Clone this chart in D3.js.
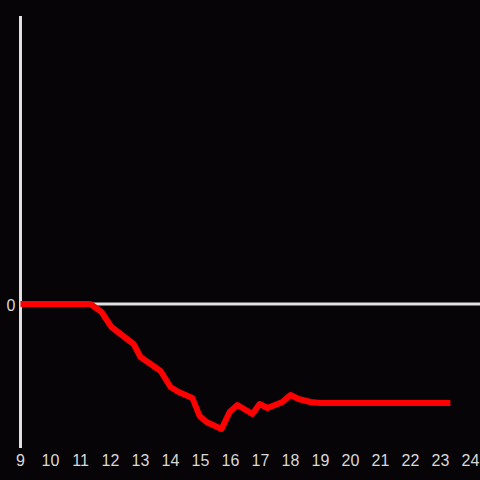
<!DOCTYPE html>
<html>
<head>
<meta charset="utf-8">
<script src="https://cdn.jsdelivr.net/npm/d3@7"></script>
<style>
  html, body { margin: 0; padding: 0; background: #060407; }
  svg { display: block; }
</style>
</head>
<body>
<svg id="chart" width="480" height="480"></svg>
<script>
"use strict";

//Hours of the day (decimal) and the matching values of the red curve
var hours = [9.0, 11.33, 11.7, 12.03, 12.77, 13.0, 13.67, 14.0, 14.27, 14.73,
             14.97, 15.2, 15.7, 15.97, 16.23, 16.73, 16.97, 17.23, 17.73, 18.0,
             18.27, 18.67, 19.0, 23.33];
var values = [0, 0, -8, -23, -40, -53, -67, -83, -88, -94,
              -112, -118, -125, -108, -101, -110, -100, -104, -98, -91,
              -95, -98, -99, -99];
//Tick labels of the axes
var xTicks = [9, 10, 11, 12, 13, 14, 15, 16, 17, 18, 19, 20, 21, 22, 23, 24];
var yTicks = [0];

var svg = d3.select("#chart");

svg.append("rect")
    .attr("width", 480)
    .attr("height", 480)
    .attr("fill", "#060407");

var x = d3.scaleLinear()
    .domain([9, 24])
    .range([20.5, 470.5]);

var y = d3.scaleLinear()
    .domain([-144, 288])
    .range([448, 16]);

var axisCol = "#e0e0e0";
var labelCol = "#d8d8d8";

//Zero line
svg.append("line")
    .attr("x1", x(9))
    .attr("x2", 480)
    .attr("y1", y(0))
    .attr("y2", y(0))
    .attr("stroke", axisCol)
    .attr("stroke-width", 3);

//Y axis line
svg.append("line")
    .attr("x1", x(9))
    .attr("x2", x(9))
    .attr("y1", y(288))
    .attr("y2", y(-144))
    .attr("stroke", axisCol)
    .attr("stroke-width", 3);

//X tick labels
svg.append("g")
    .selectAll("text")
    .data(xTicks)
    .enter().append("text")
      .attr("x", function(d) { return x(d); })
      .attr("y", 466)
      .attr("text-anchor", "middle")
      .attr("fill", labelCol)
      .attr("font-family", "Liberation Sans, Arial, sans-serif")
      .attr("font-size", "16px")
      .text(function(d) { return d; });

//Y tick label
svg.append("g")
    .selectAll("text")
    .data(yTicks)
    .enter().append("text")
      .attr("x", 15.5)
      .attr("y", function(d) { return y(d) + 6.5; })
      .attr("text-anchor", "end")
      .attr("fill", labelCol)
      .attr("font-family", "Liberation Sans, Arial, sans-serif")
      .attr("font-size", "16px")
      .text(function(d) { return d; });

//Red curve
var line = d3.line()
    .x(function(d, i) { return x(hours[i]); })
    .y(function(d) { return y(d); });

svg.append("path")
    .datum(values)
    .attr("d", line)
    .attr("fill", "none")
    .attr("stroke", "#ff0000")
    .attr("stroke-width", 6)
    .attr("stroke-linejoin", "round")
    .attr("stroke-linecap", "butt");
</script>
</body>
</html>
